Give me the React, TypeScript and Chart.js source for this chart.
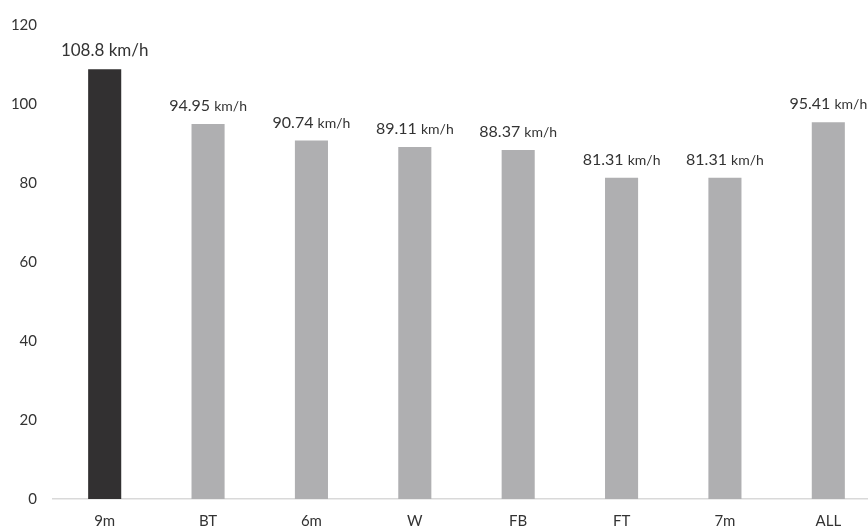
import React, { useEffect, useRef } from "react";
import { Chart, registerables } from "chart.js";

Chart.register(...registerables);

const categories = ["9m", "BT", "6m", "W", "FB", "FT", "7m", "ALL"];
const speeds = [108.8, 94.95, 90.74, 89.11, 88.37, 81.31, 81.31, 95.41];
const valueLabels = ["108.8", "94.95", "90.74", "89.11", "88.37", "81.31", "81.31", "95.41"];
const unitLabel = "km/h";
const highlighted = "9m";
const yTicks = [0, 20, 40, 60, 80, 100, 120];

const FONT = "Lato, 'Liberation Sans', sans-serif";
const TEXT = "#333333";

const labelPlugin = {
  id: "barLabels",
  afterDatasetsDraw(chart: any) {
    const ctx = chart.ctx;
    const meta = chart.getDatasetMeta(0);
    ctx.save();
    ctx.fillStyle = TEXT;
    ctx.textBaseline = "alphabetic";
    ctx.textAlign = "left";
    meta.data.forEach((bar: any, i: number) => {
      const isHi = categories[i] === highlighted;
      const numFont = isHi ? `17px ${FONT}` : `16px ${FONT}`;
      const unitFont = isHi ? `17px ${FONT}` : `14px ${FONT}`;
      const num = valueLabels[i] + " ";
      ctx.font = numFont;
      const w1 = ctx.measureText(num).width;
      ctx.font = unitFont;
      const w2 = ctx.measureText(unitLabel).width;
      const start = bar.x - (w1 + w2) / 2;
      const y = bar.y - 13;
      ctx.font = numFont;
      ctx.fillText(num, start, y);
      ctx.font = unitFont;
      ctx.fillText(unitLabel, start + w1, y);
    });
    ctx.restore();
  },
};

export default function App() {
  const ref = useRef<HTMLCanvasElement>(null);
  useEffect(() => {
    if (!ref.current) return;
    const chart = new Chart(ref.current, {
      type: "bar",
      data: {
        labels: categories,
        datasets: [
          {
            data: speeds,
            backgroundColor: categories.map((c) => (c === highlighted ? "#323031" : "#afafb1")),
            barPercentage: 0.32,
            categoryPercentage: 1,
          },
        ],
      },
      options: {
        responsive: false,
        animation: false,
        layout: { padding: { top: 25, left: 0, right: 0, bottom: 0 } },
        plugins: { legend: { display: false }, tooltip: { enabled: false } },
        scales: {
          x: {
            grid: { display: false, drawTicks: false },
            border: { display: true, color: "#d9d9d9", width: 1.5 },
            ticks: { color: TEXT, font: { family: FONT, size: 15 }, padding: 13 },
            afterFit: (s: any) => {
              s.height = 30;
            },
          },
          y: {
            min: 0,
            max: 120,
            afterBuildTicks: (s: any) => {
              s.ticks = yTicks.map((v) => ({ value: v }));
            },
            grid: { display: false, drawTicks: false },
            border: { display: false },
            ticks: { color: TEXT, font: { family: FONT, size: 15 }, padding: 16 },
            afterFit: (s: any) => {
              s.width = 53;
            },
          },
        },
      },
      plugins: [labelPlugin],
    });
    return () => chart.destroy();
  }, []);
  return (
    <div
      style={{
        position: "fixed",
        left: 0,
        top: 0,
        width: 868,
        height: 529,
        overflow: "hidden",
        background: "#fff",
      }}
    >
      <canvas ref={ref} width={880} height={529} style={{ display: "block" }} />
    </div>
  );
}
